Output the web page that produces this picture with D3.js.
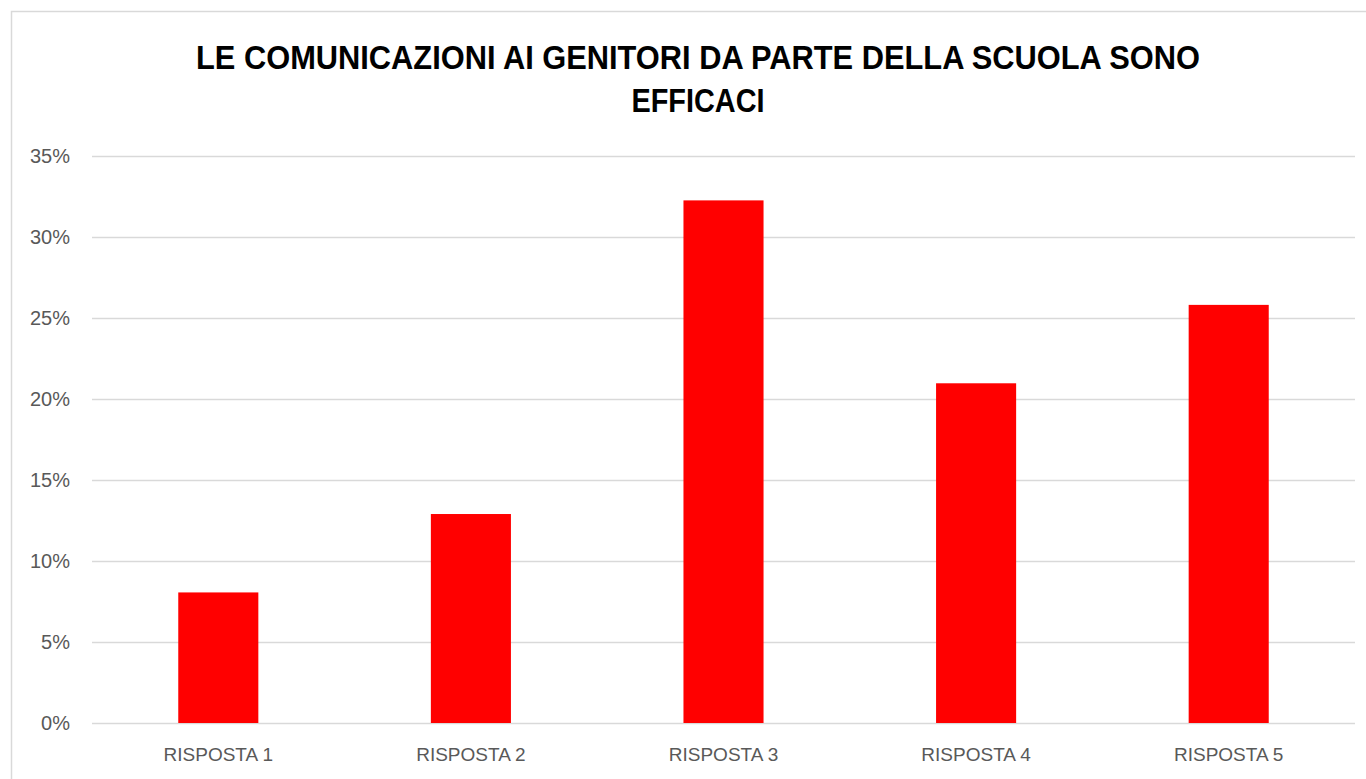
<!DOCTYPE html>
<html>
<head>
<meta charset="utf-8">
<script src="https://cdn.jsdelivr.net/npm/d3@7"></script>
<style>
  html, body { margin: 0; padding: 0; background: #fff; overflow: hidden; }
  svg { display: block; }
</style>
</head>
<body>
<svg id="chart" width="1366" height="779"></svg>
<script>
const categories = ["RISPOSTA 1", "RISPOSTA 2", "RISPOSTA 3", "RISPOSTA 4", "RISPOSTA 5"];
const values = [0.0806, 0.1290, 0.3226, 0.2097, 0.2581];
const yTicks = [0, 0.05, 0.10, 0.15, 0.20, 0.25, 0.30, 0.35];
const titleLines = ["LE COMUNICAZIONI AI GENITORI DA PARTE DELLA SCUOLA SONO", "EFFICACI"];

const svg = d3.select("#chart");
const font = "'Liberation Sans', Arial, sans-serif";

// chart frame
svg.append("rect")
  .attr("x", 11.5).attr("y", 11.5)
  .attr("width", 1400).attr("height", 800)
  .attr("fill", "#fff")
  .attr("stroke", "#d9d9d9").attr("stroke-width", 1.5);

const mLeft = 92, mRight = 1355, mTop = 156, mBottom = 723;

const x = d3.scaleBand().domain(categories).range([mLeft, mRight])
  .paddingInner(0.683).paddingOuter(0.683 / 2);
const y = d3.scaleLinear().domain([0, 0.35]).range([mBottom, mTop]);

// gridlines
const grid = d3.axisLeft(y).tickValues(yTicks).tickSize(-(mRight - mLeft)).tickFormat("");
const gG = svg.append("g").attr("transform", `translate(${mLeft},0)`).call(grid);
gG.select(".domain").remove();
gG.selectAll("line").attr("stroke", "#d9d9d9").attr("stroke-width", 1.5);

// y labels
const yAxis = d3.axisLeft(y).tickValues(yTicks).tickSize(0).tickPadding(22)
  .tickFormat(d3.format(".0%"));
const yG = svg.append("g").attr("transform", `translate(${mLeft},0)`).call(yAxis);
yG.select(".domain").remove();
yG.selectAll("text").attr("fill", "#595959").style("font-family", font).style("font-size", "20px");

// bars
svg.append("g").selectAll("rect").data(values).join("rect")
  .attr("x", (d, i) => x(categories[i]))
  .attr("y", d => y(d))
  .attr("width", x.bandwidth())
  .attr("height", d => y(0) - y(d))
  .attr("fill", "#ff0000");

// x labels
const xAxis = d3.axisBottom(x).tickSize(0).tickPadding(25);
const xG = svg.append("g").attr("transform", `translate(0,${mBottom})`).call(xAxis);
xG.select(".domain").remove();
xG.selectAll("text").attr("fill", "#595959").style("font-family", font).style("font-size", "19px");

// title
const t = svg.append("g");
t.append("text").attr("x", 698).attr("y", 69).attr("text-anchor", "middle")
  .attr("textLength", 1004).attr("lengthAdjust", "spacingAndGlyphs")
  .style("font-family", font).style("font-weight", "bold").style("font-size", "33px")
  .attr("fill", "#000").text(titleLines[0]);
t.append("text").attr("x", 698).attr("y", 112).attr("text-anchor", "middle")
  .attr("textLength", 133).attr("lengthAdjust", "spacingAndGlyphs")
  .style("font-family", font).style("font-weight", "bold").style("font-size", "33px")
  .attr("fill", "#000").text(titleLines[1]);
</script>
</body>
</html>
